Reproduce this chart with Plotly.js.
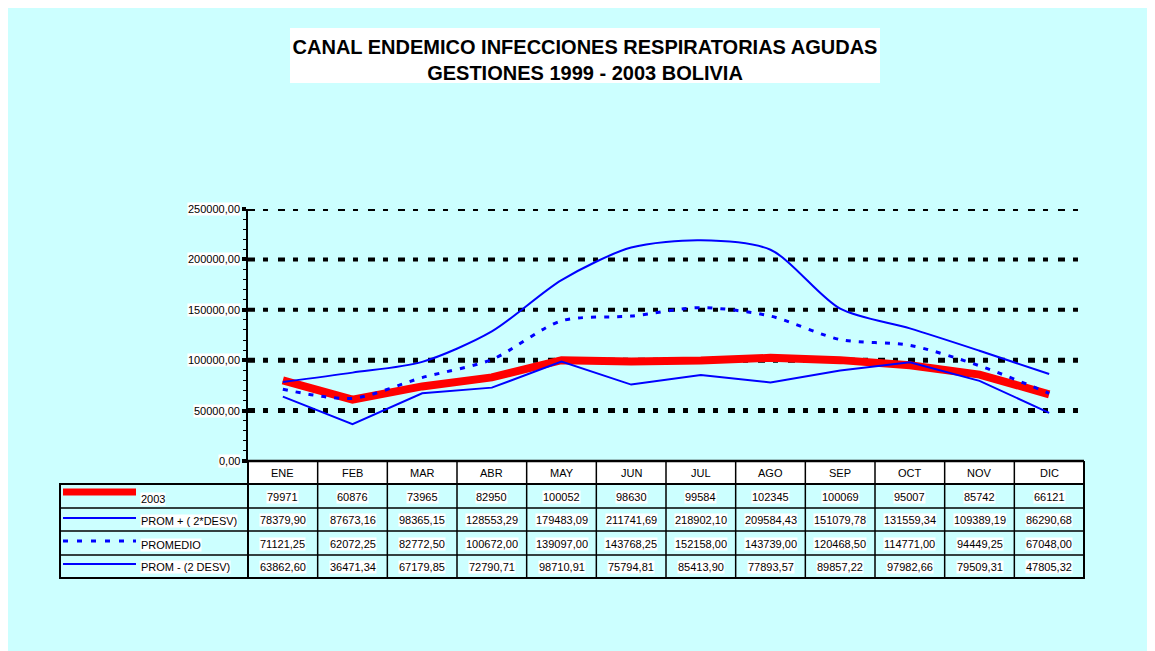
<!DOCTYPE html>
<html>
<head>
<meta charset="utf-8">
<script src="https://cdn.plot.ly/plotly-3.0.1.min.js"></script>
<style>
html,body{background:#ffffff;overflow:hidden;}
body{margin:8px;}
#chart{width:1147px;height:643px;}
</style>
</head>
<body>
<div id="chart"></div>
<script>
// ---------- DATA ----------
const meses = ['ENE','FEB','MAR','ABR','MAY','JUN','JUL','AGO','SEP','OCT','NOV','DIC'];
const serie2003 = [79971, 60876, 73965, 82950, 100052, 98630, 99584, 102345, 100069, 95007, 85742, 66121];
const promMas = [78379.90, 87673.16, 98365.15, 128553.29, 179483.09, 211741.69, 218902.10, 209584.43, 151079.78, 131559.34, 109389.19, 86290.68];
const promedio = [71121.25, 62072.25, 82772.50, 100672.00, 139097.00, 143768.25, 152158.00, 143739.00, 120468.50, 114771.00, 94449.25, 67048.00];
const promMenos = [63862.60, 36471.34, 67179.85, 72790.71, 98710.91, 75794.81, 85413.90, 77893.57, 89857.22, 97982.66, 79509.31, 47805.32];
const nombres = ['2003', 'PROM + ( 2*DESV)', 'PROMEDIO', 'PROM - (2 DESV)'];
const yTicks = [0, 50000, 100000, 150000, 200000, 250000];
const titulo = ['CANAL ENDEMICO INFECCIONES RESPIRATORIAS AGUDAS', 'GESTIONES 1999 - 2003 BOLIVIA'];

// ---------- GEOMETRY HELPERS (page pixels -> paper) ----------
const OFF = 8, PAGE_W = 1155, PAGE_H = 651;
const L = 248, R = 1084, T = 209, B = 461;
const X = px => (px - L) / (R - L);
const Y = py => (B - py) / (B - T);
const FONT = 'Liberation Sans, Arial, Helvetica, sans-serif';
const BLUE = '#0000FF';

function fmt2(v){ return v.toFixed(2).replace('.', ','); }

const traces = [
  {x: meses, y: serie2003, name: nombres[0], type: 'scatter', mode: 'lines',
   line: {color: '#FF0000', width: 8}},
  {x: meses, y: promMas, name: nombres[1], type: 'scatter', mode: 'lines',
   line: {color: BLUE, width: 2, shape: 'spline', smoothing: 0.8}},
  {x: meses, y: promedio, name: nombres[2], type: 'scatter', mode: 'lines',
   line: {color: BLUE, width: 3, dash: '5px,8px', shape: 'spline', smoothing: 0.8}},
  {x: meses, y: promMenos, name: nombres[3], type: 'scatter', mode: 'lines',
   line: {color: BLUE, width: 2}}
];

const shapes = [];
const annotations = [];

// title white box
shapes.push({type: 'rect', xref: 'paper', yref: 'paper', layer: 'below',
  x0: X(290), x1: X(880), y0: Y(83), y1: Y(28),
  fillcolor: '#FFFFFF', line: {width: 0}});

// dotted gridlines
yTicks.forEach(v => {
  if (v === 0) return;
  shapes.push({type: 'line', xref: 'paper', yref: 'y', layer: 'between',
    x0: 0, x1: 1, y0: v, y1: v,
    line: {color: '#000000', width: (v === 50000 || v === 100000) ? 5 : 4, dash: '7px,8px,5px,10px'}});
});

// y tick labels with white highlight
yTicks.forEach(v => {
  annotations.push({xref: 'paper', yref: 'y', x: 0, y: v, xanchor: 'right', yanchor: 'middle',
    xshift: -7, text: fmt2(v), showarrow: false, bgcolor: '#FFFFFF', borderpad: 0,
    font: {family: FONT, size: 11, color: '#000000'}});
});

// ---------- TABLE ----------
const rowEdges = [461, 484, 508, 531, 555, 578];
const tableLeft = 60;
shapes.push({type: 'rect', xref: 'paper', yref: 'paper', layer: 'above',
  x0: 0, x1: 1, y0: Y(484), y1: Y(461), fillcolor: '#FFFFFF', line: {width: 0}});
for (let i = 0; i <= meses.length; i++) {
  shapes.push({type: 'line', xref: 'paper', yref: 'paper', layer: 'above',
    x0: i / meses.length, x1: i / meses.length, y0: Y(461), y1: Y(578),
    line: {color: '#000000', width: (i === 0 || i === meses.length) ? 2 : 1.5}});
}
for (let r = 1; r < rowEdges.length - 1; r++) {
  shapes.push({type: 'line', xref: 'paper', yref: 'paper', layer: 'above',
    x0: X(tableLeft), x1: 1, y0: Y(rowEdges[r]), y1: Y(rowEdges[r]),
    line: {color: '#000000', width: r === 1 ? 2 : 1.5}});
}
shapes.push({type: 'rect', xref: 'paper', yref: 'paper', layer: 'above',
  x0: X(tableLeft), x1: 1, y0: Y(578), y1: Y(484), line: {color: '#000000', width: 2}});
shapes.push({type: 'line', xref: 'paper', yref: 'paper', layer: 'above',
  x0: 0, x1: 1, y0: Y(461), y1: Y(461), line: {color: '#000000', width: 2.5}});

meses.forEach(m => {
  annotations.push({xref: 'x', yref: 'paper', x: m, y: Y(472.5), text: m, showarrow: false,
    xanchor: 'center', yanchor: 'middle', font: {family: FONT, size: 11, color: '#000000'}});
});

const filas = [serie2003.map(v => String(v)), promMas.map(fmt2), promedio.map(fmt2), promMenos.map(fmt2)];
const rowCenters = [496.5, 520, 543.5, 566.5];
filas.forEach((fila, r) => {
  fila.forEach((txt, i) => {
    annotations.push({xref: 'x', yref: 'paper', x: meses[i], y: Y(rowCenters[r]), text: txt,
      showarrow: false, xanchor: 'center', yanchor: 'middle', bgcolor: '#FFFFFF', borderpad: 0,
      font: {family: FONT, size: 11, color: '#000000'}});
  });
});

const sampleY = [492, 518, 541, 564];
const sampleStyles = [
  {color: '#FF0000', width: 7},
  {color: BLUE, width: 2},
  {color: BLUE, width: 3, dash: '5px,9px'},
  {color: BLUE, width: 2}
];
sampleY.forEach((sy, r) => {
  shapes.push({type: 'line', xref: 'paper', yref: 'paper', layer: 'above',
    x0: X(63), x1: X(136), y0: Y(sy), y1: Y(sy), line: sampleStyles[r]});
});
const labelY = [499, 521, 544.5, 567];
nombres.forEach((n, r) => {
  annotations.push({xref: 'paper', yref: 'paper', x: X(140), y: Y(labelY[r]), text: n,
    showarrow: false, xanchor: 'left', yanchor: 'middle', bgcolor: '#FFFFFF', borderpad: 0,
    font: {family: FONT, size: 11, color: '#000000'}});
});

const layout = {
  width: PAGE_W - OFF, height: PAGE_H - OFF,
  margin: {l: L - OFF, r: PAGE_W - R, t: T - OFF, b: PAGE_H - B, pad: 0},
  paper_bgcolor: '#CCFFFF', plot_bgcolor: 'rgba(0,0,0,0)',
  showlegend: false,
  separators: ',.',
  title: {
    text: '<b>' + titulo[0] + '</b><br><b>' + titulo[1] + '</b>',
    font: {family: FONT, size: 20, color: '#000000'},
    x: (585 - OFF) / (PAGE_W - OFF), xref: 'container', xanchor: 'center',
    y: 1 - (54 - OFF) / (PAGE_H - OFF), yref: 'container', yanchor: 'middle'
  },
  xaxis: {type: 'category', range: [-0.5, 11.5], showticklabels: false, showgrid: false,
    zeroline: false, showline: true, linecolor: '#000000', linewidth: 2, ticks: '', fixedrange: true},
  yaxis: {range: [0, 250000], autorange: false, tickvals: yTicks, showticklabels: false,
    showgrid: false, zeroline: false, showline: true, linecolor: '#000000', linewidth: 2,
    ticks: 'outside', ticklen: 4, tickwidth: 4, tickcolor: '#000000',
    minor: {dtick: 10000, ticks: 'outside', ticklen: 3, tickwidth: 1, tickcolor: '#000000', showgrid: false},
    fixedrange: true},
  shapes: shapes,
  annotations: annotations
};

Plotly.newPlot('chart', traces, layout, {displayModeBar: false, responsive: false});
</script>
</body>
</html>
